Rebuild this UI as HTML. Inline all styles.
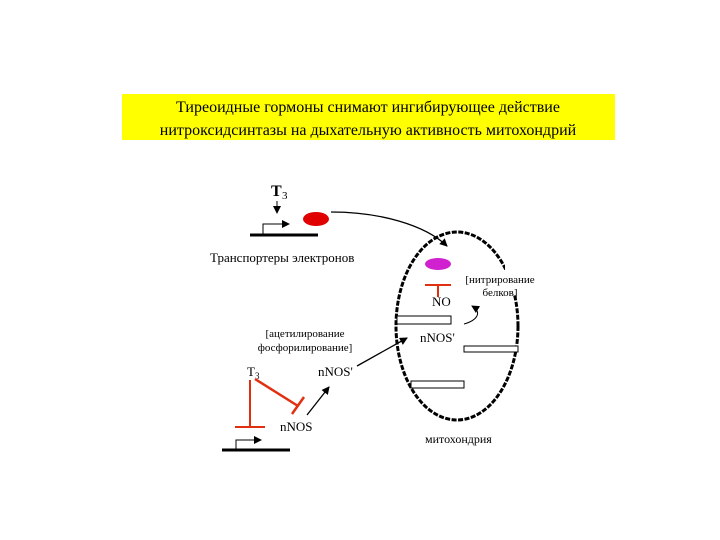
<!DOCTYPE html>
<html><head><meta charset="utf-8"><style>
body{margin:0;background:#fff;}
svg{display:block;font-family:"Liberation Serif",serif;}
</style></head><body>
<svg width="720" height="540" viewBox="0 0 720 540" xmlns="http://www.w3.org/2000/svg">
<defs>
<marker id="a" markerWidth="8" markerHeight="8" refX="7" refY="4" orient="auto" markerUnits="userSpaceOnUse"><path d="M0,0L8,4L0,8z" fill="#000"/></marker>
</defs>
<rect x="122" y="94" width="493" height="46" fill="#ffff00"/>
<text x="368" y="112" font-size="16" text-anchor="middle">Тиреоидные гормоны снимают ингибирующее действие</text>
<text x="368" y="135" font-size="16" text-anchor="middle">нитроксидсинтазы на дыхательную активность митохондрий</text>

<text x="271" y="196" font-size="16" font-weight="bold">T</text><text x="282" y="199" font-size="11">3</text>
<line x1="277" y1="201" x2="277" y2="213" stroke="#000" marker-end="url(#a)"/>
<line x1="250" y1="235" x2="318" y2="235" stroke="#000" stroke-width="3"/>
<path d="M263,234V224H289" fill="none" stroke="#000" marker-end="url(#a)"/>
<ellipse cx="316" cy="219" rx="13" ry="7" fill="#e00000"/>
<path d="M331,212C380,212 425,225 447,246" fill="none" stroke="#000" stroke-width="1.3" marker-end="url(#a)"/>
<text x="210" y="262" font-size="13">Транспортеры электронов</text>

<ellipse cx="457" cy="326" rx="61" ry="94" fill="none" stroke="#000" stroke-width="3" stroke-dasharray="5 1.5"/>
<rect x="505" y="262" width="18" height="32" fill="#fff"/>
<ellipse cx="438" cy="264" rx="13" ry="6" fill="#d020d0"/>
<line x1="425" y1="285" x2="451" y2="285" stroke="#e03010" stroke-width="2"/>
<line x1="438" y1="285" x2="438" y2="297" stroke="#e03010" stroke-width="2"/>
<text x="432" y="306" font-size="13">NO</text>
<text x="500" y="283" font-size="11" text-anchor="middle">[нитрирование</text>
<text x="500" y="296" font-size="11" text-anchor="middle">белков]</text>
<rect x="397" y="316" width="54" height="8" fill="#fff" stroke="#000"/>
<path d="M464,324C478,320 482,312 472,306" fill="none" stroke="#000" marker-end="url(#a)"/>
<text x="420" y="342" font-size="13">nNOS'</text>
<rect x="464" y="346" width="54" height="6" fill="#fff" stroke="#000"/>
<rect x="411" y="381" width="53" height="7" fill="#fff" stroke="#000"/>
<text x="425" y="443" font-size="12">митохондрия</text>

<text x="305" y="337" font-size="11" text-anchor="middle">[ацетилирование</text>
<text x="305" y="351" font-size="11" text-anchor="middle">фосфорилирование]</text>
<line x1="357" y1="366" x2="407" y2="338" stroke="#000" stroke-width="1.3" marker-end="url(#a)"/>
<text x="247" y="376" font-size="13">T</text><text x="255" y="379" font-size="9">3</text>
<text x="318" y="376" font-size="13">nNOS'</text>
<line x1="250" y1="380" x2="250" y2="427" stroke="#e03010" stroke-width="2"/>
<line x1="235" y1="427" x2="265" y2="427" stroke="#e03010" stroke-width="2"/>
<line x1="255" y1="379" x2="298" y2="406" stroke="#e03010" stroke-width="2.5"/>
<line x1="292" y1="414" x2="304" y2="397" stroke="#e03010" stroke-width="2.5"/>
<text x="280" y="431" font-size="13">nNOS</text>
<line x1="307" y1="415" x2="329" y2="387" stroke="#000" stroke-width="1.3" marker-end="url(#a)"/>
<line x1="222" y1="450" x2="290" y2="450" stroke="#000" stroke-width="3"/>
<path d="M236,449V440H261" fill="none" stroke="#000" marker-end="url(#a)"/>
</svg>
</body></html>
